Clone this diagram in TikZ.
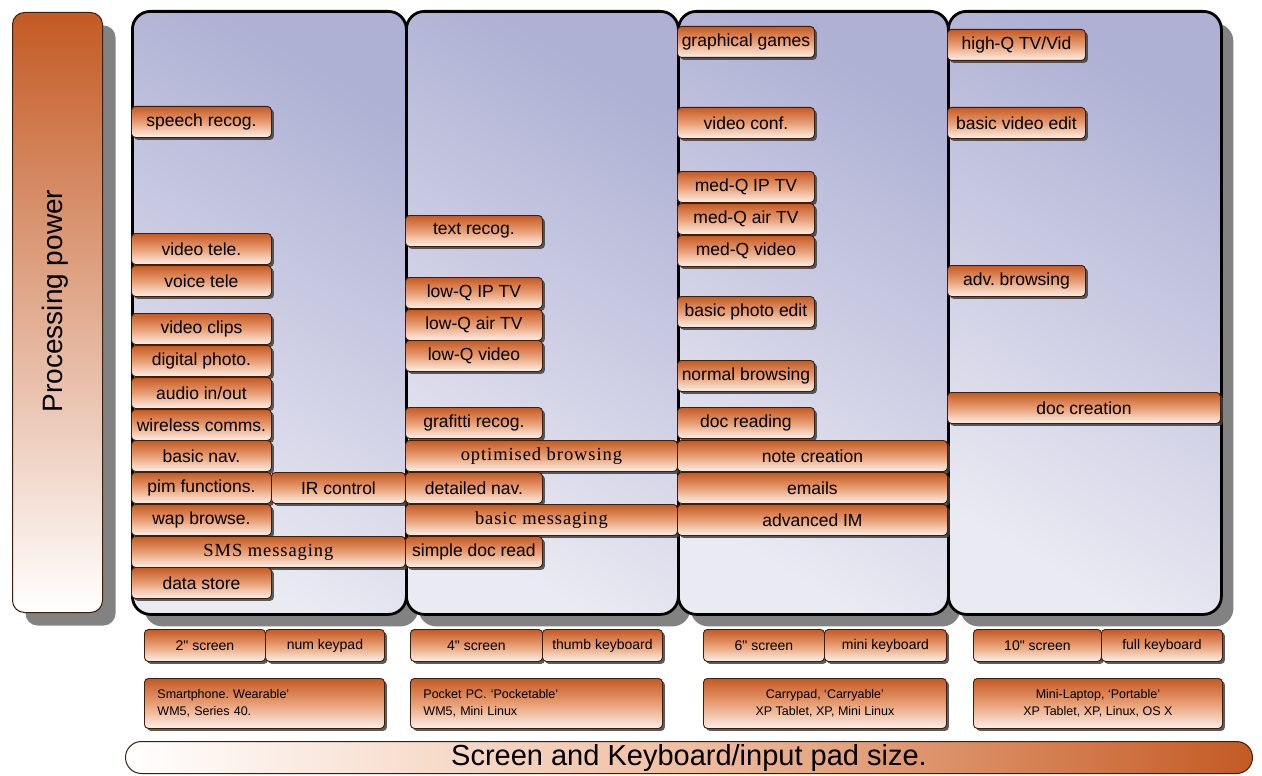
\documentclass[tikz,border=0pt]{standalone}
\usepackage{fontspec}
\setmainfont{Liberation Sans}
\newfontfamily\serifit[LetterSpace=5]{Liberation Serif}
\newfontfamily\plainsans[Ligatures=TeXOff]{Liberation Sans}
\usetikzlibrary{shadows}

\definecolor{orD}{RGB}{196,90,36}
\definecolor{orM}{RGB}{232,158,116}
\definecolor{orL}{RGB}{253,240,232}
\definecolor{colD}{RGB}{174,176,212}
\definecolor{colL}{RGB}{234,234,243}
\definecolor{edge}{RGB}{60,30,12}
\definecolor{shd}{RGB}{130,130,130}

\tikzset{
  obox/.style={draw=edge, line width=0.9pt, rounded corners=4pt,
    top color=orD, bottom color=orL, middle color=orM, inner sep=0pt,
    font=\fontsize{17.5}{19}\selectfont,
    drop shadow={shadow xshift=2.5pt, shadow yshift=-2.5pt, fill=black!75, opacity=0.85}},
  sbox/.style={obox, font=\plainsans\fontsize{14}{16}\selectfont},
  dbox/.style={obox, font=\fontsize{12.5}{17}\selectfont},
  serifbox/.style={obox, font=\serifit\fontsize{18.5}{20}\selectfont},
  colbox/.style={draw=black, line width=2.8pt, rounded corners=18pt,
    top color=colD, bottom color=colL, shading angle=-30, inner sep=0pt,
    drop shadow={shadow xshift=12pt, shadow yshift=-12pt, fill=shd, opacity=1}},
  pbar/.style={draw=edge, line width=1pt, rounded corners=12pt,
    top color=orD, bottom color=white, inner sep=0pt,
    drop shadow={shadow xshift=13pt, shadow yshift=-13pt, fill=shd, opacity=1}},
  sizebar/.style={draw=edge, line width=1pt, rounded corners=16pt,
    left color=white, right color=orD, middle color={rgb,255:red,240;green,190;blue,160}, inner sep=0pt,
    font=\fontsize{29}{31}\selectfont},
}

\newcommand\bx[7][obox]{\node[#1,minimum width=#5pt,minimum height=#6pt,anchor=north west] (#2) at (#3,#4) {#7};}

\begin{document}
\frenchspacing
\begin{tikzpicture}[x=1pt,y=-1pt]
\useasboundingbox (0,0) rectangle (1262,776);
\fill[white] (0,0) rectangle (1262,776);

% processing power bar
\node[pbar, minimum width=90pt, minimum height=600pt, anchor=north west] (pp) at (12,12) {};
\node[rotate=90, font=\fontsize{28}{30}\selectfont] (pptext) at (55,301) {Processing power};

% columns
\node[colbox, minimum width=274pt, minimum height=603pt, anchor=north west] (c1) at (131,10) {};
\node[colbox, minimum width=272pt, minimum height=603pt, anchor=north west] (c2) at (405,10) {};
\node[colbox, minimum width=270pt, minimum height=603pt, anchor=north west] (c3) at (677,10) {};
\node[colbox, minimum width=273pt, minimum height=603pt, anchor=north west] (c4) at (947,10) {};

% column 1
\bx{speech}{131}{106}{140}{31}{speech recog.}
\bx{vtele}{131}{233}{140}{31}{video tele.}
\bx{voicetele}{131}{265}{140}{31}{voice tele}
\bx{vclips}{131}{313}{140}{31}{video clips}
\bx{dphoto}{131}{345}{140}{31}{digital photo.}
\bx{audio}{131}{377}{140}{31}{audio in/out}
\bx{wireless}{131}{409}{140}{31}{wireless comms.}
\bx{bnav}{131}{440}{140}{31}{basic nav.}
\bx{pim}{131}{472}{140}{31}{pim functions.}
\bx{ir}{271}{472}{134}{31}{IR control}
\bx{wap}{131}{504}{140}{31}{wap browse.}
\bx[serifbox]{sms}{131}{536}{274}{31}{SMS messaging}
\bx{dstore}{131}{567}{140}{31}{data store}

% column 2
\bx{trecog}{405}{215}{137}{31}{text recog.}
\bx{lqip}{405}{277}{137}{31}{low-Q IP TV}
\bx{lqair}{405}{309}{137}{31}{low-Q air TV}
\bx{lqvid}{405}{340}{137}{31}{low-Q video}
\bx{graf}{405}{407}{137}{31}{grafitti recog.}
\bx[serifbox]{optb}{405}{440}{272}{31}{optimised browsing}
\bx{dnav}{405}{472}{137}{31}{detailed nav.}
\bx[serifbox]{bmsg}{405}{504}{272}{31}{basic messaging}
\bx{sdoc}{405}{536}{137}{31}{simple doc read}

% column 3
\bx{games}{677}{26}{137}{31}{graphical games}
\bx{vconf}{677}{107}{137}{31}{video conf.}
\bx{mqip}{677}{171}{137}{31}{med-Q IP TV}
\bx{mqair}{677}{203}{137}{31}{med-Q air TV}
\bx{mqvid}{677}{235}{137}{31}{med-Q video}
\bx{bphoto}{677}{296}{137}{31}{basic photo edit}
\bx{nbrow}{677}{360}{137}{31}{normal browsing}
\bx{docr}{677}{407}{137}{31}{doc reading}
\bx{note}{677}{440}{270}{31}{note creation}
\bx{emails}{677}{472}{270}{31}{emails}
\bx{aim}{677}{504}{270}{31}{advanced IM}

% column 4
\bx{hq}{947}{29}{138}{31}{high-Q TV/Vid}
\bx{bvid}{947}{107}{138}{31}{basic video edit}
\bx{advb}{947}{265}{138}{31}{adv. browsing}
\bx{docc}{947}{392}{273}{31}{doc creation}

% screen / keyboard row
\bx[sbox]{s2}{144}{629}{121}{32}{2" screen}
\bx[sbox]{k2}{265}{629}{119}{32}{num keypad}
\bx[sbox]{s4}{410}{629}{132}{32}{4" screen}
\bx[sbox]{k4}{542}{629}{120}{32}{thumb keyboard}
\bx[sbox]{s6}{703}{629}{121}{32}{6" screen}
\bx[sbox]{k6}{824}{629}{122}{32}{mini keyboard}
\bx[sbox]{s10}{973}{629}{128}{32}{10" screen}
\bx[sbox]{k10}{1101}{629}{121}{32}{full keyboard}

% device rows
\node[dbox, minimum width=240pt, minimum height=50pt, text width=214pt, inner xsep=13pt, align=left, anchor=north west] (d1) at (144,678) {Smartphone. Wearable'\\WM5, Series 40.};
\node[dbox, minimum width=252pt, minimum height=50pt, text width=226pt, inner xsep=13pt, align=left, anchor=north west] (d2) at (410,678) {Pocket PC. `Pocketable'\\WM5, Mini Linux};
\node[dbox, minimum width=243pt, minimum height=50pt, align=center, anchor=north west] (d3) at (703,678) {Carrypad, `Carryable'\\XP Tablet, XP, Mini Linux};
\node[dbox, minimum width=249pt, minimum height=50pt, align=center, anchor=north west] (d4) at (973,678) {Mini-Laptop, `Portable'\\XP Tablet, XP, Linux, OS X};

% size bar
\node[sizebar, minimum width=1127pt, minimum height=32pt, anchor=north west] (size) at (125,741) {Screen and Keyboard/input pad size.};
\end{tikzpicture}
\end{document}
